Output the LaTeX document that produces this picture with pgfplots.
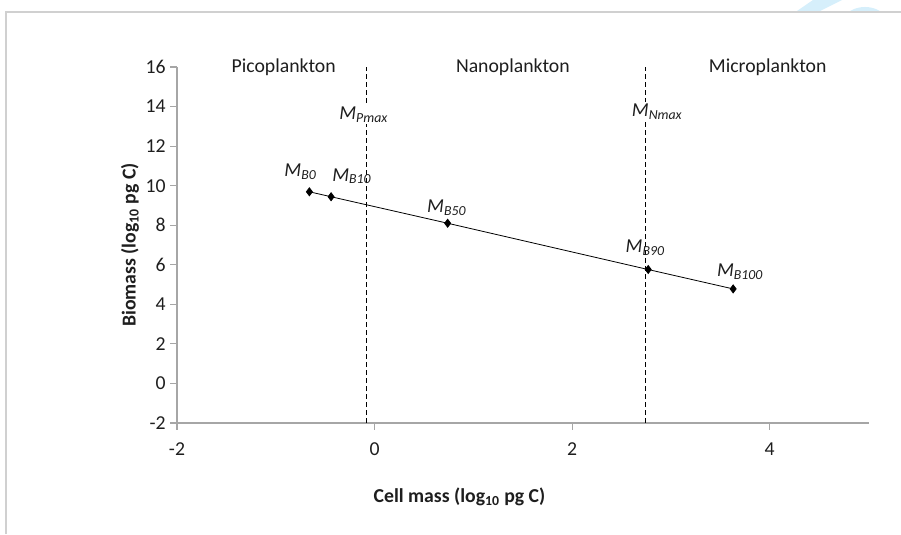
\documentclass[border=0pt]{standalone}
\usepackage{pgfplots}
\pgfplotsset{compat=1.18}
\usepackage{fontspec}
\setmainfont{Carlito}
\definecolor{axisgray}{HTML}{A6A6A6}
\definecolor{framegray}{HTML}{D0D0D0}
\definecolor{txt}{HTML}{1E1E1E}
\definecolor{wm}{HTML}{D6EFFB}
\begin{document}
\begin{tikzpicture}[font=\fontsize{14.8pt}{17.5pt}\selectfont]
\begin{axis}[
  scale only axis, width=518.6pt, height=267pt,
  xmin=-2, xmax=5, ymin=-2, ymax=16,
  axis x line*=bottom, axis y line*=left,
  axis line style={axisgray, line width=0.8pt, -},
  xtick={-2,0,2,4}, ytick={-2,0,2,4,6,8,10,12,14,16},
  tick style={axisgray, line width=0.8pt},
  tick align=outside, major tick length=5pt,
  xtick pos=bottom, ytick pos=left,
  /pgf/number format/assume math mode=true,
  ticklabel style={text=txt},
  xticklabel style={yshift=-6pt},
  xlabel={\bfseries Cell mass (log\textsubscript{10} pg C)},
  ylabel={\bfseries Biomass (log\textsubscript{10} pg C)},
  xlabel style={at={(rel axis cs:0.4085,-0.208)}, anchor=center, text=txt},
  ylabel style={at={(rel axis cs:-0.068,0.5)}, rotate=0, anchor=center, text=txt},
  clip=false,
]
% frame and bounding box
\path[use as bounding box] (rel axis cs:-0.256,-0.3118) rectangle (rel axis cs:1.047,1.1882);
% watermark fragment
\fill[wm] (rel axis cs:0.8966,1.1573) -- (rel axis cs:0.9299,1.1573) -- (rel axis cs:0.9617,1.1882) -- (rel axis cs:0.9197,1.1882) -- cycle;
\begin{scope}
\clip (rel axis cs:0.9,1.1545) rectangle (rel axis cs:1.047,1.1882);
\fill[wm] (rel axis cs:0.9949,1.0843) circle[radius=22.5pt];
\end{scope}
\draw[framegray, line width=1.5pt] (rel axis cs:-0.2473,-0.3118) -- (rel axis cs:-0.2473,1.1545) -- (rel axis cs:1.047,1.1545);

% dashed boundaries
\addplot[black, line width=1pt, dash pattern=on 3.5pt off 2.5pt, forget plot] coordinates {(-0.08,-2) (-0.08,16)};
\addplot[black, line width=1pt, dash pattern=on 3.5pt off 2.5pt, forget plot] coordinates {(2.745,-2) (2.745,16)};

% data
\addplot[black, line width=0.6pt, mark=diamond*, mark size=3pt, mark options={solid, fill=black}] coordinates {
  (-0.66,9.69) (-0.44,9.44) (0.74,8.10) (2.77,5.76) (3.63,4.78)
};

% labels
\node[text=txt, fill=white, inner sep=1pt] at (axis cs:-0.11,13.6) {\itshape M\textsubscript{Pmax}};
\node[text=txt, fill=white, inner sep=1pt] at (axis cs:2.86,13.75) {\itshape M\textsubscript{Nmax}};
\node[text=txt] at (axis cs:-0.75,10.72) {\itshape M\textsubscript{B0}};
\node[text=txt] at (axis cs:-0.23,10.48) {\itshape M\textsubscript{B10}};
\node[text=txt] at (axis cs:0.73,8.9) {\itshape M\textsubscript{B50}};
\node[text=txt] at (axis cs:2.74,6.87) {\itshape M\textsubscript{B90}};
\node[text=txt] at (axis cs:3.70,5.67) {\itshape M\textsubscript{B100}};

\node[text=txt, fill=white, inner sep=1pt] at (axis cs:-0.92,16.0) {Picoplankton};
\node[text=txt, fill=white, inner sep=1pt] at (axis cs:1.40,16.0) {Nanoplankton};
\node[text=txt, fill=white, inner sep=1pt] at (axis cs:3.98,16.0) {Microplankton};
\end{axis}
\end{tikzpicture}
\end{document}
